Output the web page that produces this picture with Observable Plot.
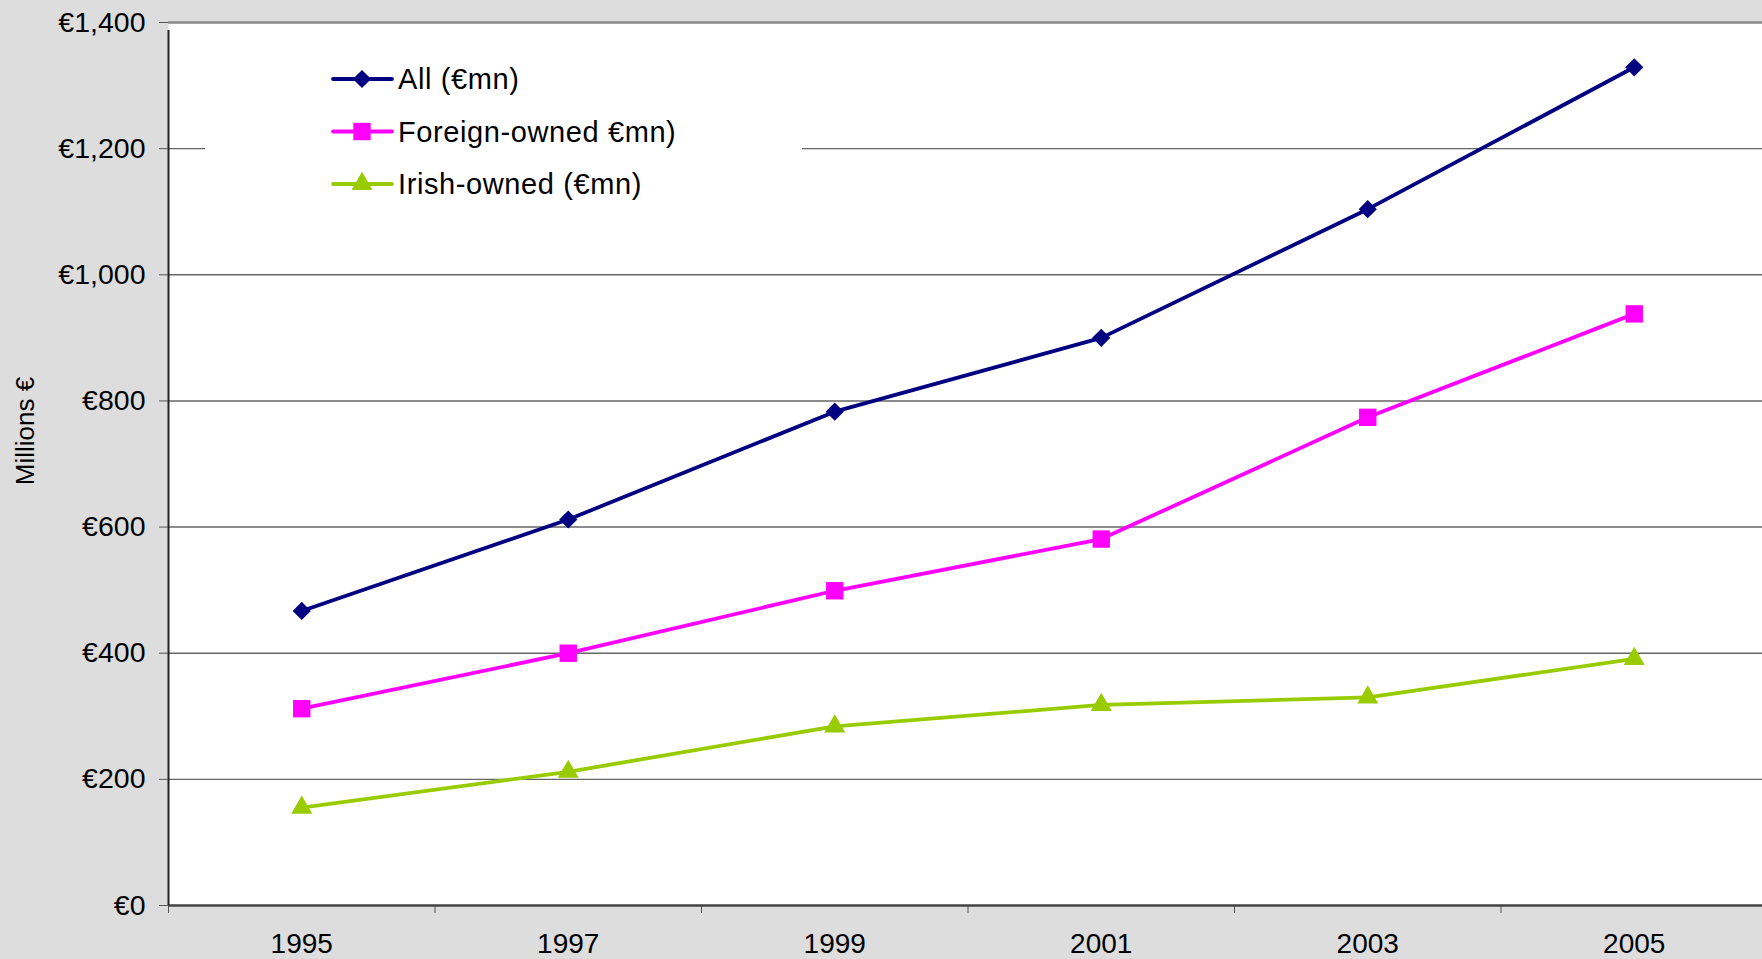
<!DOCTYPE html>
<html><head><meta charset="utf-8">
<script src="https://cdn.jsdelivr.net/npm/d3@7"></script>
<script src="https://cdn.jsdelivr.net/npm/@observablehq/plot@0.6"></script>
<style>
html,body{margin:0;padding:0;background:#dddddd;overflow:hidden;}
#wrap{position:relative;width:1762px;height:959px;font-family:"Liberation Sans",Arial,sans-serif;}
</style></head><body><div id="wrap"></div>
<script>
const years = [1995, 1997, 1999, 2001, 2003, 2005];
const allOwned = [467, 612, 783, 900, 1104, 1329];
const foreignOwned = [312, 400, 499, 581, 774, 938];
const irishOwned = [155, 212, 284, 318, 330, 391];
const seriesNames = ["All (€mn)", "Foreign-owned €mn)", "Irish-owned (€mn)"];
const seriesColors = ["#000080", "#ff00ff", "#99cc00"];
const seriesSymbols = ["diamond2", "square", "triangle"];
const seriesRadius = [8.2, 9.8, 7.8];
const yTicks = [0, 200, 400, 600, 800, 1000, 1200, 1400];
const xBoundaries = [1994, 1996, 1998, 2000, 2002, 2004, 2006];
const yTitle = "Millions €";

const seriesValues = [allOwned, foreignOwned, irishOwned];
const data = [];
seriesNames.forEach((s, i) => years.forEach((yr, j) => data.push({series: s, year: yr, value: seriesValues[i][j]})));

const font = "Liberation Sans, Arial, sans-serif";
const marks = [
  Plot.frame({fill: "white", stroke: null}),
  Plot.ruleY(yTicks.slice(1, -1), {stroke: "#666", strokeWidth: 1.4}),
  Plot.ruleY([1400], {stroke: "#8a8a8a", strokeWidth: 2.5}),
  Plot.axisY({ticks: yTicks, tickFormat: d => "€" + d3.format(",")(d), tickSize: 9, tickPadding: 14,
    fontSize: 28.5, letterSpacing: 1.2, label: null, stroke: "#555", fill: "#000"}),
  Plot.text([yTitle], {frameAnchor: "left", textAnchor: "middle", rotate: -90, dx: -143, dy: -33, fontSize: 26, letterSpacing: 0.5, fill: "#000"}),
  Plot.axisX({ticks: xBoundaries, tickFormat: () => "", tickSize: 8, stroke: "#555", label: null}),
  Plot.axisX({ticks: years, tickFormat: d => String(d), tickSize: 0, tickPadding: 28, fontSize: 28, letterSpacing: 1.5, label: null, fill: "#000"}),
  Plot.ruleY([0], {stroke: "#444", strokeWidth: 2.5}),
  Plot.ruleX([1994], {y1: 0, y2: 1400, insetBottom: -8, stroke: "#222", strokeWidth: 2}),
  Plot.line(data, {x: "year", y: "value", z: "series", stroke: "series", strokeWidth: 3.8})
];
seriesNames.forEach((s, i) => {
  marks.push(Plot.dot(data.filter(d => d.series === s), {x: "year", y: "value", symbol: () => seriesSymbols[i], fill: seriesColors[i], r: seriesRadius[i], stroke: "none"}));
});

const chart = Plot.plot({
  width: 1762, height: 959,
  marginLeft: 168, marginTop: 22, marginBottom: 54, marginRight: 0,
  style: {background: "transparent", fontFamily: font, overflow: "hidden"},
  x: {type: "linear", domain: [1994, 2006], range: [168, 1767]},
  y: {domain: [0, 1400]},
  color: {domain: seriesNames, range: seriesColors},
  symbol: {domain: seriesSymbols, range: seriesSymbols},
  marks
});
chart.style.position = "absolute";
chart.style.left = "0px";
chart.style.top = "0px";
document.getElementById("wrap").appendChild(chart);

// legend overlay
const lg = d3.select("#wrap").append("svg")
  .style("position", "absolute").style("left", "205px").style("top", "36px")
  .attr("width", 597).attr("height", 200);
lg.append("rect").attr("width", 597).attr("height", 200).attr("fill", "white");
const symMap = {diamond2: d3.symbolDiamond2, square: d3.symbolSquare, triangle: d3.symbolTriangle};
seriesNames.forEach((s, i) => {
  const g = lg.append("g").attr("transform", `translate(0, ${43 + i * 52.5})`);
  g.append("line").attr("x1", 128).attr("x2", 187).attr("stroke", seriesColors[i]).attr("stroke-width", 3.8).attr("stroke-linecap", "round");
  g.append("path").attr("transform", "translate(157,0)")
    .attr("d", d3.symbol(symMap[seriesSymbols[i]], Math.PI * seriesRadius[i] * seriesRadius[i])())
    .attr("fill", seriesColors[i]);
  g.append("text").attr("x", 193).attr("dy", "0.35em").attr("font-size", 29).attr("letter-spacing", 0.6).attr("font-family", font).text(s);
});
</script></body></html>
